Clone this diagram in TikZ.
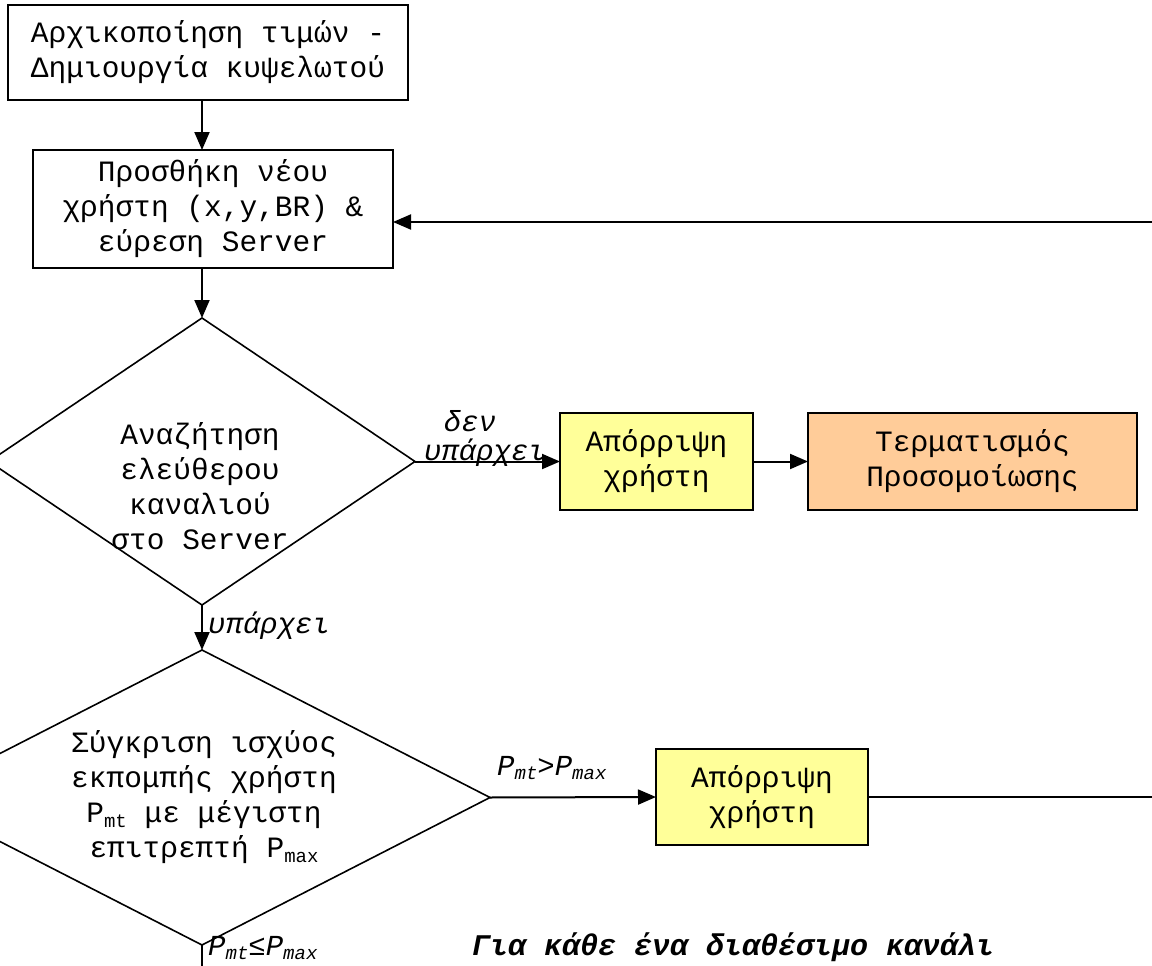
\documentclass[tikz,border=0pt]{standalone}
\usepackage{fontspec}
\setmainfont{Liberation Mono}
\usetikzlibrary{shapes.geometric,arrows.meta}
% subscript used inside the power labels
\newcommand{\sbx}[1]{\raisebox{-0.3ex}{\fontsize{19}{19}\selectfont #1}}
\tikzset{
  stepbox/.style={draw, line width=2pt, align=center, inner sep=0pt, outer sep=0pt},
  decision/.style={diamond, draw, line width=1.6pt, inner sep=0pt, outer sep=0pt},
  flow/.style={line width=2pt, -{Triangle[length=18pt,width=15pt]}},
  plainline/.style={line width=2pt},
  lbl/.style={font=\fontsize{29}{35}\selectfont\itshape, inner sep=0pt},
  body/.style={align=center, inner sep=0pt},
}
\definecolor{paleyellow}{HTML}{FFFF99}
\definecolor{peach}{HTML}{FFCC99}
\begin{document}
\begin{tikzpicture}[x=1pt, y=-1pt, font=\fontsize{29.5}{35}\selectfont]
\useasboundingbox (0,0) rectangle (1152,966);
\clip (0,0) rectangle (1152,966);

% process boxes
\node[stepbox, minimum width=400pt, minimum height=95pt] (init) at (208,52.5)
  {Αρχικοποίηση τιμών -\\Δημιουργία κυψελωτού};
\node[stepbox, minimum width=360pt, minimum height=118pt] (add) at (213,209)
  {Προσθήκη νέου\\χρήστη (x,y,BR) \&\\εύρεση Server};

% first decision
\node[decision, minimum width=426pt, minimum height=287pt] (search) at (202,461.5) {};
\node[body] at (200,486) {Αναζήτηση\\ελεύθερου\\καναλιού\\στο Server};

\node[stepbox, fill=paleyellow, minimum width=193pt, minimum height=97pt] (rej1) at (656.5,461.5)
  {Απόρριψη\\χρήστη};
\node[stepbox, fill=peach, minimum width=329pt, minimum height=97pt] (stop) at (972.5,461.5)
  {Τερματισμός\\Προσομοίωσης};

% second decision
\node[decision, minimum width=576pt, minimum height=295pt] (power) at (202,797.5) {};
\node[body] at (204,797) {Σύγκριση ισχύος\\εκπομπής χρήστη\\P\sbx{mt} με μέγιστη\\επιτρεπτή P\sbx{max}};

\node[stepbox, fill=paleyellow, minimum width=212pt, minimum height=96pt] (rej2) at (762,797)
  {Απόρριψη\\χρήστη};

% loose ends at the right and bottom borders
\coordinate (back) at (1152,222);
\coordinate (outr) at (1152,797);
\coordinate (outb) at (202,966);

% connectors
\draw[flow] (init.south -| search.north) -- (add.north -| search.north);
\draw[flow] (add.south -| search.north) -- (search.north);
\draw[flow] (search.east) -- (rej1.west);
\draw[flow] (rej1.east) -- (stop.west);
\draw[flow] (search.south) -- (power.north);
\draw[flow] (power.east) -- (rej2.west);
\draw[plainline] (rej2.east) -- (outr);
\draw[flow] (back) -- (back -| add.east);
\draw[plainline] (power.south) -- (outb);

% branch labels
\node[lbl, anchor=base] (no) at (470,431) {δεν};
\node[lbl, anchor=base] (nolbl) at (485,460) {υπάρχει};
\node[lbl, anchor=base west] (yes) at (208,633) {υπάρχει};
\node[lbl, anchor=base west] (gt) at (497,775) {P\sbx{mt}>P\sbx{max}};
\node[lbl, anchor=base west] (le) at (208,955) {P\sbx{mt}≤P\sbx{max}};

% loop caption
\node[anchor=base west, inner sep=0pt, font=\fontsize{30}{36}\selectfont\bfseries\itshape] (loop) at (472,955)
  {Για κάθε ένα διαθέσιμο κανάλι};
\end{tikzpicture}
\end{document}
